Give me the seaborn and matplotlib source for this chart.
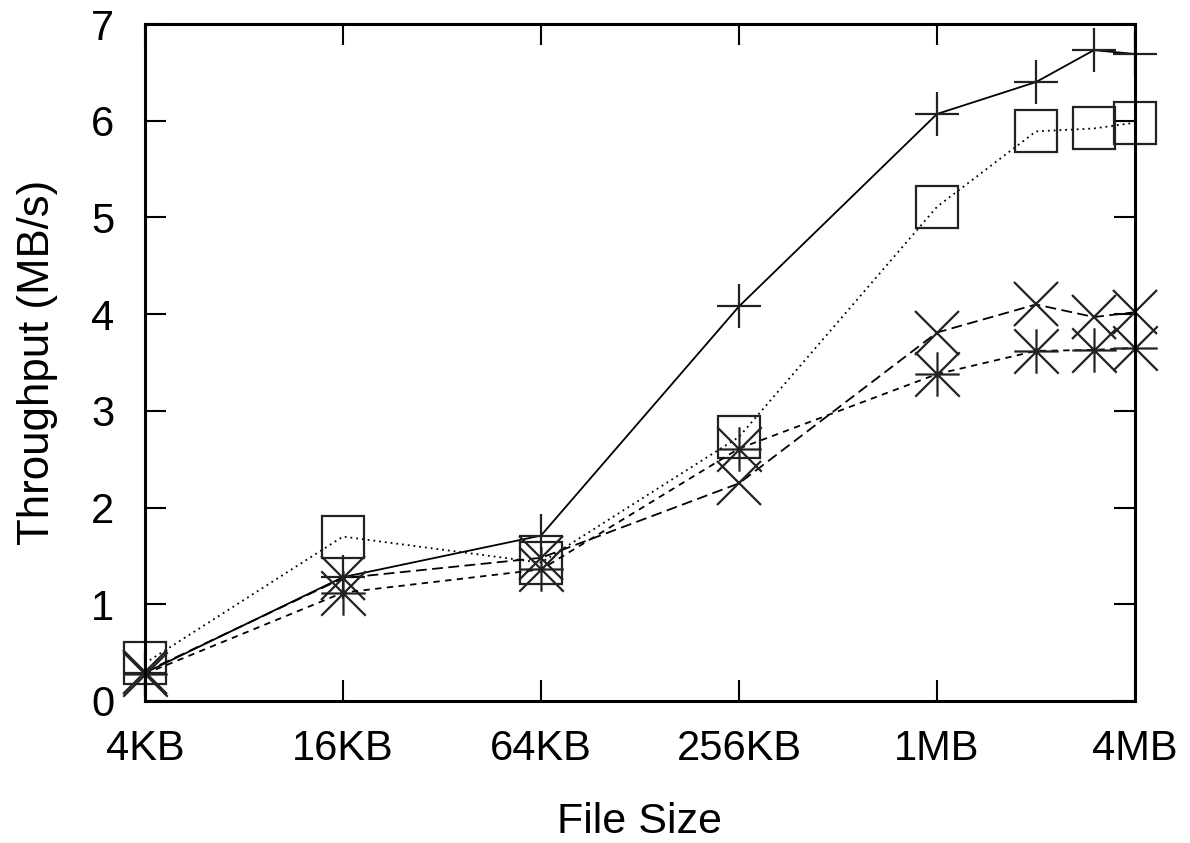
import matplotlib
matplotlib.use('Agg')
import matplotlib.pyplot as plt
from matplotlib.path import Path
import seaborn as sns
import pandas as pd

# ---- data ----
file_size_kb = [4, 16, 64, 256, 1024, 2048, 3072, 4096]
tick_kb = [4, 16, 64, 256, 1024, 4096]
tick_labels = ['4KB', '16KB', '64KB', '256KB', '1MB', '4MB']
y_ticks = [0, 1, 2, 3, 4, 5, 6, 7]

series_plus = [0.29, 1.28, 1.71, 4.08, 6.07, 6.40, 6.73, 6.69]
series_square = [0.39, 1.70, 1.43, 2.73, 5.11, 5.89, 5.92, 5.98]
series_cross = [0.30, 1.27, 1.48, 2.25, 3.81, 4.10, 3.97, 4.02]
series_star = [0.28, 1.12, 1.36, 2.61, 3.38, 3.62, 3.63, 3.65]

sns.set_style('ticks')
plt.rcParams['font.family'] = ['Liberation Sans', 'DejaVu Sans']
plt.rcParams['text.color'] = 'black'
plt.rcParams['axes.labelcolor'] = 'black'
plt.rcParams['xtick.color'] = 'black'
plt.rcParams['ytick.color'] = 'black'

# gnuplot-style asterisk: plus arms plus diagonals to the box corners
star_path = Path(
    [(-1, 0), (1, 0), (0, -1), (0, 1), (-1, -1), (1, 1), (-1, 1), (1, -1)],
    [Path.MOVETO, Path.LINETO] * 4,
)

fig = plt.figure(figsize=(11.9, 8.43), dpi=100)
ax = fig.add_axes([0.1218, 0.1685, 0.8320, 0.8030])

styles = [
    (series_plus, dict(marker='+', linestyle='-', markersize=31)),
    (series_square, dict(marker='s', linestyle=(0, (1, 2.2)), markersize=30,
                         markerfacecolor='none')),
    (series_cross, dict(marker='x', linestyle=(0, (6, 3)), markersize=31)),
    (series_star, dict(marker=star_path, linestyle=(0, (3.5, 3)), markersize=32)),
]

for vals, st in styles:
    df = pd.DataFrame({'size': file_size_kb, 'tp': vals})
    sns.lineplot(data=df, x='size', y='tp', ax=ax, color='black', linewidth=1.3,
                 markeredgecolor='#222222', markeredgewidth=1.6, clip_on=False,
                 **st)

ax.set_xscale('log', base=2)
ax.set_xlim(4, 4096)
ax.set_ylim(0, 7)
ax.set_xticks(tick_kb)
ax.set_xticklabels(tick_labels)
ax.set_yticks(y_ticks)
ax.minorticks_off()
ax.tick_params(axis='both', which='major', direction='in', length=15, width=1.5,
               labelsize=30, top=True, right=True, color='black', labelcolor='black')
ax.tick_params(axis='x', pad=20)
ax.tick_params(axis='y', pad=22)
for sp in ax.spines.values():
    sp.set_linewidth(2.2)
    sp.set_color('black')

ax.set_xlabel('File Size', fontsize=31, labelpad=24, color='black')
ax.set_ylabel('Throughput (MB/s)', fontsize=31.5, labelpad=24, color='black')

fig.savefig('out.png', dpi=100)
